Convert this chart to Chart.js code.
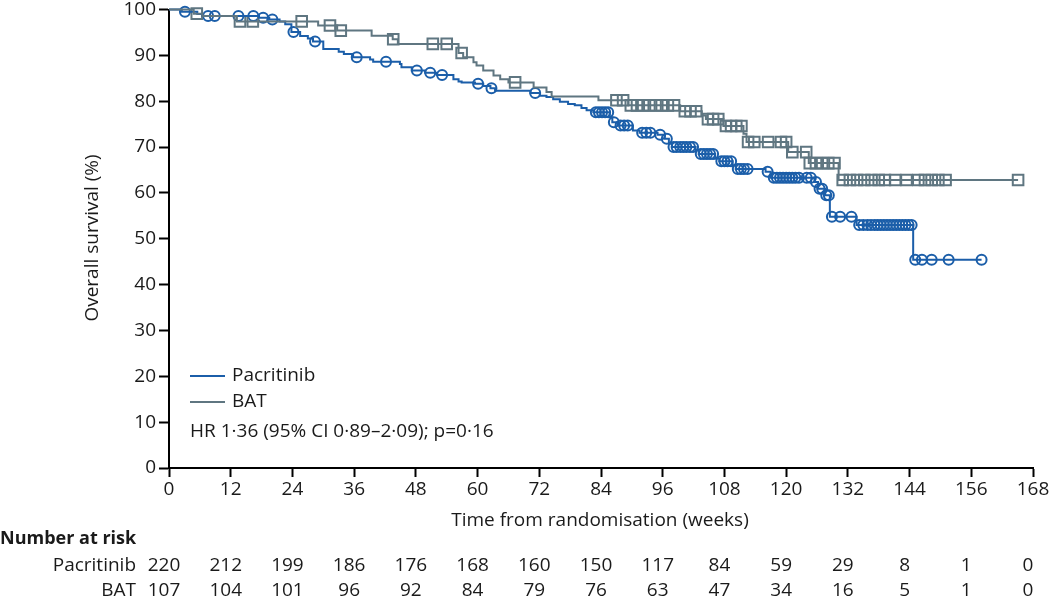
<!DOCTYPE html>
<html><head><meta charset="utf-8">
<script src="https://cdn.jsdelivr.net/npm/chart.js@4.4.1/dist/chart.umd.min.js"></script>
<style>html,body{margin:0;padding:0;background:#fff;}#wrap{width:1050px;height:602px;position:relative;}</style>
</head><body><div id="wrap"><canvas id="c" width="1050" height="602"></canvas></div>
<script>
const FONT = '"Open Sans", sans-serif';
const FS = 19;
const BLUE = '#1b5ea9';
const GRAY = '#5f7681';
const TXT = '#1a1a1a';

// Pacritinib Kaplan-Meier steps (weeks, % surviving)
const pacTime = [0,2.5,5.5,6.5,17.5,19.5,21.5,22.6,23.8,25.5,27.0,28.0,30.0,33.0,34.0,35.8,39.1,39.7,44.9,45.2,47.2,49.8,52.1,55.3,56.3,56.9,59.5,61.1,62.5,63.4,70.3,72.1,73.4,74.7,76.0,77.6,78.9,80.2,81.2,82.5,85.7,86.2,87.2,90.2,91.5,95.0,96.4,97.2,97.8,102.4,103.0,106.2,107.0,109.6,110.2,116.0,117.0,125.5,126.2,127.6,128.5,133.7,144.7,158.0];
const pacSurv = [100,99.5,99.0,98.6,98.2,97.8,97.4,96.8,95.1,94.2,93.7,93.0,91.4,90.8,90.3,89.6,89.1,88.6,88.1,87.4,86.7,86.2,85.7,84.8,84.3,84.1,83.8,83.3,82.8,82.3,81.8,81.2,80.9,80.4,79.9,79.4,79.1,78.5,78.0,77.6,76.5,75.4,74.7,73.6,73.1,72.7,71.8,70.7,70.0,69.3,68.5,67.5,66.9,66.0,65.2,64.6,63.3,62.4,60.9,59.5,54.8,53.0,45.4,45.4];
// Pacritinib censored
const pacCensTime = [3.1,7.6,8.9,13.5,16.4,18.3,20.1,24.2,28.4,36.5,42.2,48.2,50.8,53.1,60.1,62.7,71.2,83.0,83.6,84.2,84.8,85.4,86.5,87.8,88.5,89.2,92.0,92.8,93.6,95.5,96.8,98.1,98.7,99.4,100.0,100.6,101.3,101.9,103.4,104.0,104.6,105.2,105.8,107.4,108.0,108.6,109.3,110.6,111.2,111.8,112.5,116.4,117.6,118.2,118.8,119.4,120.0,120.6,121.2,121.8,122.5,124.0,124.8,125.8,126.5,127.0,127.8,128.3,128.9,130.5,132.7,134.2,135.0,135.8,136.5,137.2,137.8,138.4,139.0,139.6,140.2,140.8,141.4,142.0,142.6,143.2,143.8,144.4,145.1,146.4,148.3,151.6,158.0];
const pacCensSurv = [99.5,98.6,98.6,98.6,98.6,98.2,97.8,95.1,93.0,89.6,88.6,86.7,86.2,85.7,83.8,82.8,81.8,77.6,77.6,77.6,77.6,77.6,75.4,74.7,74.7,74.7,73.1,73.1,73.1,72.7,71.8,70.0,70.0,70.0,70.0,70.0,70.0,70.0,68.5,68.5,68.5,68.5,68.5,66.9,66.9,66.9,66.9,65.2,65.2,65.2,65.2,64.6,63.3,63.3,63.3,63.3,63.3,63.3,63.3,63.3,63.3,63.3,63.3,62.4,60.9,60.9,59.5,59.5,54.8,54.8,54.8,53.0,53.0,53.0,53.0,53.0,53.0,53.0,53.0,53.0,53.0,53.0,53.0,53.0,53.0,53.0,53.0,53.0,45.4,45.4,45.4,45.4,45.4];

// BAT Kaplan-Meier steps
const batTime = [0,4.8,6.5,13.2,29.0,32.7,39.4,43.5,44.5,56.3,57.2,59.2,59.8,61.1,63.1,64.4,66.0,70.9,73.4,74.4,83.5,89.3,99.4,103.6,104.4,107.8,111.7,112.3,120.4,124.4,130.2,165.1];
const batSurv = [100,99.1,98.6,97.4,96.5,95.4,94.3,93.5,92.5,90.5,89.6,88.5,87.8,86.7,85.6,84.8,84.1,83.0,82.0,81.0,80.2,79.1,77.8,76.9,76.1,74.6,72.9,71.1,68.9,66.5,62.8,62.8];
// BAT censored
const batCensTime = [5.4,13.8,16.3,25.8,31.3,33.4,43.6,51.3,54.0,56.9,67.3,87.0,88.3,89.8,91.0,92.2,93.4,94.6,95.8,97.0,98.2,100.3,101.4,102.5,104.8,105.8,106.8,108.3,109.3,110.3,111.3,112.6,113.8,116.5,119.0,120.0,121.2,123.9,124.6,125.8,127.0,128.2,129.4,131.0,132.4,133.8,135.2,136.6,138.0,139.2,141.2,143.4,145.7,147.0,148.3,149.6,151.0,165.1];
const batCensSurv = [99.1,97.4,97.4,97.4,96.5,95.4,93.5,92.5,92.5,90.5,84.1,80.2,80.2,79.1,79.1,79.1,79.1,79.1,79.1,79.1,79.1,77.8,77.8,77.8,76.1,76.1,76.1,74.6,74.6,74.6,74.6,71.1,71.1,71.1,71.1,71.1,68.9,68.9,66.5,66.5,66.5,66.5,66.5,62.8,62.8,62.8,62.8,62.8,62.8,62.8,62.8,62.8,62.8,62.8,62.8,62.8,62.8,62.8];

// Axis ticks and numbers at risk
const xTicks = [0,12,24,36,48,60,72,84,96,108,120,132,144,156,168];
const yTicks = [0,10,20,30,40,50,60,70,80,90,100];
const riskPac = [220,212,199,186,176,168,160,150,117,84,59,29,8,1,0];
const riskBat = [107,104,101,96,92,84,79,76,63,47,34,16,5,1,0];

const xTitle = 'Time from randomisation (weeks)';
const yTitle = 'Overall survival (%)';
const riskTitle = 'Number at risk';
const seriesNames = ['Pacritinib','BAT'];
const hrText = 'HR 1·36 (95% CI 0·89–2·09); p=0·16';

const pts = (xs, ys) => xs.map((x, i) => ({x: x, y: ys[i]}));

const overlay = {
  id: 'overlay',
  afterDraw(chart) {
    const ctx = chart.ctx;
    const xs = chart.scales.x;
    ctx.save();
    ctx.fillStyle = TXT;
    ctx.font = FS + 'px ' + FONT;
    ctx.textBaseline = 'middle';
    ctx.textAlign = 'center';
    ctx.fillText(xTitle, 600, 521);
    ctx.save();
    ctx.translate(93, 238);
    ctx.rotate(-Math.PI / 2);
    ctx.fillText(yTitle, 0, 0);
    ctx.restore();
    ctx.lineWidth = 2;
    ctx.strokeStyle = BLUE;
    ctx.beginPath(); ctx.moveTo(190, 376); ctx.lineTo(225, 376); ctx.stroke();
    ctx.strokeStyle = GRAY;
    ctx.beginPath(); ctx.moveTo(190, 402); ctx.lineTo(225, 402); ctx.stroke();
    ctx.textAlign = 'left';
    ctx.fillText(seriesNames[0], 232, 376);
    ctx.fillText(seriesNames[1], 232, 402);
    ctx.fillText(hrText, 190, 432);
    ctx.font = 'bold 18px ' + FONT;
    ctx.fillText(riskTitle, 0, 539);
    ctx.font = FS + 'px ' + FONT;
    ctx.textAlign = 'right';
    ctx.fillText(seriesNames[0], 136, 566);
    ctx.fillText(seriesNames[1], 136, 591);
    ctx.textAlign = 'center';
    xTicks.forEach((t, i) => {
      const px = xs.getPixelForValue(t) - 5;
      ctx.fillText(String(riskPac[i]), px, 566);
      ctx.fillText(String(riskBat[i]), px, 591);
    });
    ctx.restore();
  }
};

new Chart(document.getElementById('c'), {
  type: 'scatter',
  data: {
    datasets: [
      {label: 'BAT', data: pts(batTime, batSurv), showLine: true, stepped: true,
       borderColor: GRAY, borderWidth: 2, pointRadius: 0, fill: false, clip: false},
      {label: 'Pacritinib', data: pts(pacTime, pacSurv), showLine: true, stepped: true,
       borderColor: BLUE, borderWidth: 2, pointRadius: 0, fill: false, clip: false},
      {label: 'BAT censored', data: pts(batCensTime, batCensSurv), showLine: false,
       pointStyle: 'rect', pointRadius: 7.5, pointBorderWidth: 2, borderColor: GRAY,
       pointBorderColor: GRAY, pointBackgroundColor: 'rgba(0,0,0,0)', clip: false},
      {label: 'Pacritinib censored', data: pts(pacCensTime, pacCensSurv), showLine: false,
       pointStyle: 'circle', pointRadius: 5, pointBorderWidth: 2, borderColor: BLUE,
       pointBorderColor: BLUE, pointBackgroundColor: 'rgba(0,0,0,0)', clip: false}
    ]
  },
  options: {
    responsive: false,
    animation: false,
    events: [],
    layout: {padding: {left: 0, right: 17, top: 7, bottom: 0}},
    plugins: {legend: {display: false}, tooltip: {enabled: false}},
    scales: {
      x: {
        type: 'linear', min: 0, max: 168,
        afterBuildTicks: s => { s.ticks = xTicks.map(v => ({value: v})); },
        afterFit: s => { s.height = 134; s.paddingLeft = 0; s.paddingRight = 0; },
        ticks: {font: {family: FONT, size: FS}, color: TXT, padding: 1, maxRotation: 0, autoSkip: false},
        grid: {drawOnChartArea: false, drawTicks: true, tickLength: 9, tickColor: '#000', tickWidth: 2},
        border: {display: true, color: '#000', width: 2}
      },
      y: {
        min: 0, max: 100,
        afterBuildTicks: s => { s.ticks = yTicks.map(v => ({value: v})); },
        afterFit: s => { s.width = 169; s.paddingTop = 0; s.paddingBottom = 0; },
        ticks: {font: {family: FONT, size: FS}, color: TXT, padding: 3, autoSkip: false},
        grid: {drawOnChartArea: false, drawTicks: true, tickLength: 10, tickColor: '#000', tickWidth: 2},
        border: {display: true, color: '#000', width: 2}
      }
    }
  },
  plugins: [overlay]
});
</script></body></html>
